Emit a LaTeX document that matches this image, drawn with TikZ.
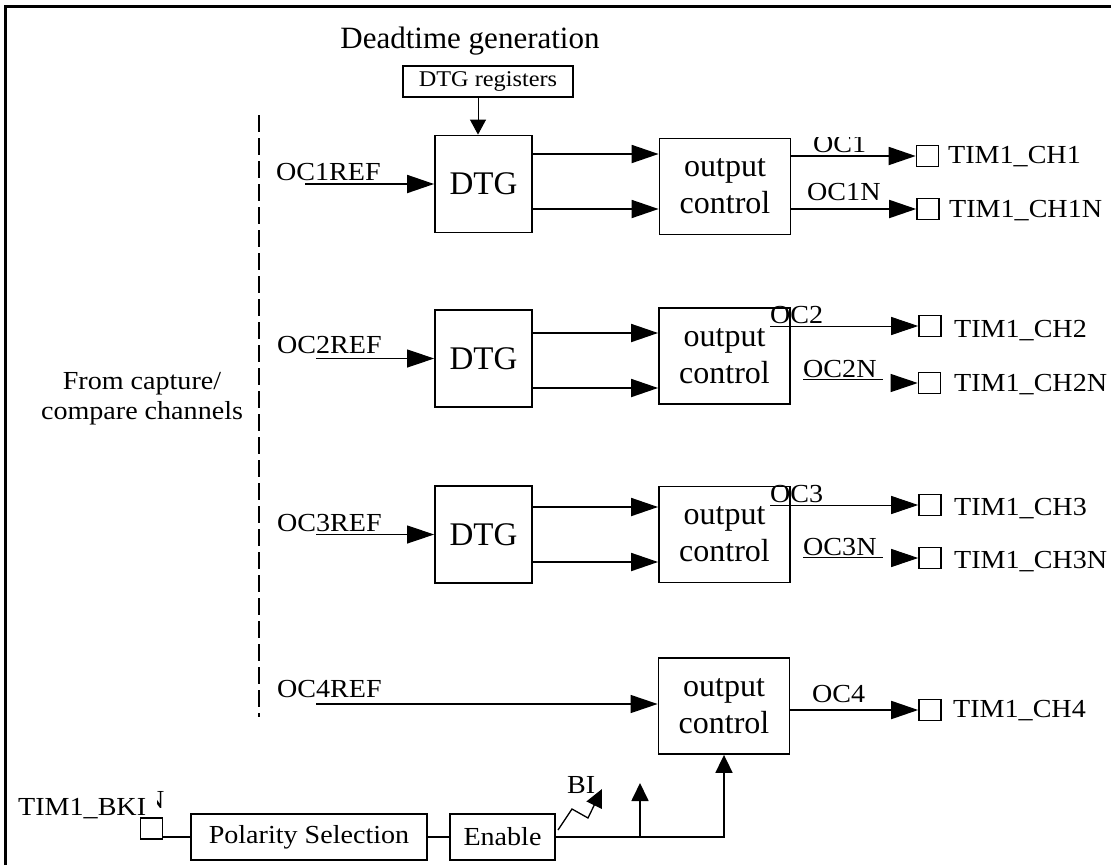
\documentclass[tikz,border=0pt]{standalone}
\usepackage{fontspec}
\setmainfont{Liberation Serif}
\newfontfamily\lblfam[FakeStretch=1.08]{Liberation Serif}
\usetikzlibrary{arrows.meta}
\newcommand\LblFont{\lblfam\fontsize{26}{30}\selectfont}
\newcommand\TitleFont{\fontsize{31}{37}\selectfont}
\newcommand\DtgFont{\fontsize{33}{37}\selectfont}
\newcommand\OcFont{\fontsize{32}{37}\selectfont}
\newcommand\RegFont{\lblfam\fontsize{22.5}{25}\selectfont}
\begin{document}
\begin{tikzpicture}[x=1pt,y=-1pt,
  blk/.style={draw, line width=1.8pt, inner sep=0pt, align=center},
  dtgbox/.style={blk, minimum width=97pt, minimum height=97pt, font=\DtgFont},
  ocbox/.style={blk, minimum width=131pt, minimum height=96pt, font=\OcFont},
  pin/.style={draw, line width=1.6pt, minimum width=22pt, minimum height=21pt, inner sep=0pt},
  tlabel/.style={inner sep=0pt, anchor=base west, font=\LblFont},
  thk/.style={line width=1.8pt},
  thn/.style={line width=1pt},
  arr/.style={-{Triangle[length=27pt,width=18pt]}},
  sarr/.style={-{Triangle[length=18pt,width=17pt]}}]
\useasboundingbox (0,0) rectangle (1111,865);
% frame
\draw[line width=3pt] (5,865) -- (5,6) -- (1111,6);

% title and registers
\node[inner sep=0pt, anchor=base, font=\TitleFont] (title) at (470,48) {Deadtime generation};
\node[blk, line width=1.5pt, minimum width=170pt, minimum height=31pt, font=\RegFont] (reg) at (488,81.5) {DTG registers};

% dashed separator
\coordinate (dtop) at (259,115);
\coordinate (dbot) at (259,717);
\draw[line width=1.5pt, dash pattern=on 17pt off 6pt] (dtop) -- (dbot);
\node[align=center, inner sep=0pt, font=\LblFont] (from) at (142,399) {From capture/\\compare channels};

% DTG blocks
\node[dtgbox] (dtg1) at (483.5,184) {DTG};
\node[dtgbox] (dtg2) at (483.5,358.5) {DTG};
\node[dtgbox] (dtg3) at (483.5,534.5) {DTG};

% output control blocks
\node[ocbox] (out1) at (725,186.5) {output\\control};
\node[ocbox] (out2) at (724.5,356) {output\\control};
\node[ocbox] (out3) at (724.5,534.5) {output\\control};
\node[ocbox] (out4) at (724,706) {output\\control};

% register arrow
\coordinate (regx) at (478,0);
\draw[thn, -{Triangle[length=15pt,width=16pt]}] (reg.south -| regx) -- (dtg1.north -| regx);

% inputs
\node[tlabel] (r1) at (276,180) {OC1REF};
\node[tlabel] (r2) at (277,353) {OC2REF};
\node[tlabel] (r3) at (277,531) {OC3REF};
\node[tlabel] (r4) at (277,697) {OC4REF};
\coordinate (i1) at (305,184);
\coordinate (i2) at (316,358.5);
\coordinate (i3) at (316,534.5);
\coordinate (i4) at (316,704);
\draw[thk, arr] (i1) -- (dtg1.west);
\draw[thn, arr] (i2) -- (dtg2.west);
\draw[thn, arr] (i3) -- (dtg3.west);
\draw[line width=1.4pt, arr] (i4) -- (out4.west |- i4);

% DTG -> output control
\draw[thk, arr] (dtg1.east |- 0,154) -- (out1.west |- 0,154);
\draw[thk, arr] (dtg1.east |- 0,209) -- (out1.west |- 0,209);
\draw[thk, arr] (dtg2.east |- 0,333) -- (out2.west |- 0,333);
\draw[thk, arr] (dtg2.east |- 0,388) -- (out2.west |- 0,388);
\draw[thk, arr] (dtg3.east |- 0,507) -- (out3.west |- 0,507);
\draw[thk, arr] (dtg3.east |- 0,562) -- (out3.west |- 0,562);

% output pins
\node[pin] (p1) at (927.5,156) {};
\node[pin] (p1n) at (928,209) {};
\node[pin] (p2) at (930,326) {};
\node[pin] (p2n) at (929.5,383) {};
\node[pin] (p3) at (930,505) {};
\node[pin] (p3n) at (930,558) {};
\node[pin] (p4) at (930,710) {};

\node[tlabel] (t1) at (948,163) {TIM1\_CH1};
\node[tlabel] (t1n) at (949,217) {TIM1\_CH1N};
\node[tlabel] (t2) at (954,337) {TIM1\_CH2};
\node[tlabel] (t2n) at (954,391) {TIM1\_CH2N};
\node[tlabel] (t3) at (954,515) {TIM1\_CH3};
\node[tlabel] (t3n) at (954,568) {TIM1\_CH3N};
\node[tlabel] (t4) at (953,717) {TIM1\_CH4};

% channel 1 outputs
\begin{scope}
\clip (800,137) rectangle (880,175);
\node[tlabel] (oc1) at (813,152) {OC1};
\end{scope}
\draw[thk, arr] (out1.east |- p1) -- (p1.west);
\node[tlabel] (oc1n) at (807,200) {OC1N};
\draw[thk, arr] (out1.east |- p1n) -- (p1n.west);

% channel 2 outputs
\node[tlabel] (oc2) at (770,323) {OC2};
\coordinate (s2) at (770,326);
\draw[thn, arr] (s2) -- (p2.west);
\node[tlabel] (oc2n) at (803,377) {OC2N};
\draw[thn] (oc2n.base west) ++(0,2) -- ++(80,0);
\coordinate (a2n) at (892,383);
\draw[thn, arr] (a2n) -- (p2n.west);

% channel 3 outputs
\node[tlabel] (oc3) at (770,502) {OC3};
\coordinate (s3) at (770,505);
\draw[thn, arr] (s3) -- (p3.west);
\node[tlabel] (oc3n) at (803,555) {OC3N};
\draw[thn] (oc3n.base west) ++(0,2) -- ++(80,0);
\coordinate (a3n) at (892,558);
\draw[thn, arr] (a3n) -- (p3n.west);

% channel 4 output
\node[tlabel] (oc4) at (812,702) {OC4};
\draw[thk, arr] (out4.east |- p4) -- (p4.west);

% break input
\node[tlabel] (bki) at (18,815) {TIM1\_BKI};
\begin{scope}
\clip (157,785) rectangle (170,812);
\node[tlabel] (bkn) at (144,808) {N};
\end{scope}
\node[pin] (bsq) at (151.5,828.5) {};
\node[blk, minimum width=236pt, minimum height=46pt, font=\LblFont] (pol) at (309,837) {Polarity Selection};
\node[blk, minimum width=105pt, minimum height=46pt, font=\LblFont] (en) at (502.5,837) {Enable};
\draw[thk] (bsq.east |- pol.west) -- (pol.west);
\draw[thk] (pol.east) -- (en.west);
\coordinate (br) at (640,837);
\coordinate (brt) at (640,783);
\draw[thk, sarr] (en.east) -- (out4.south |- en.east) -- (out4.south);
\draw[thk, sarr] (br) -- (brt);
\coordinate (z0) at (558,830);
\coordinate (z3) at (602,789);
\draw[line width=1.3pt, sarr] (z0) -- (572,809) -- (588,818) -- (z3);
\node[tlabel] (bi) at (567,793) {BI};
\end{tikzpicture}
\end{document}
